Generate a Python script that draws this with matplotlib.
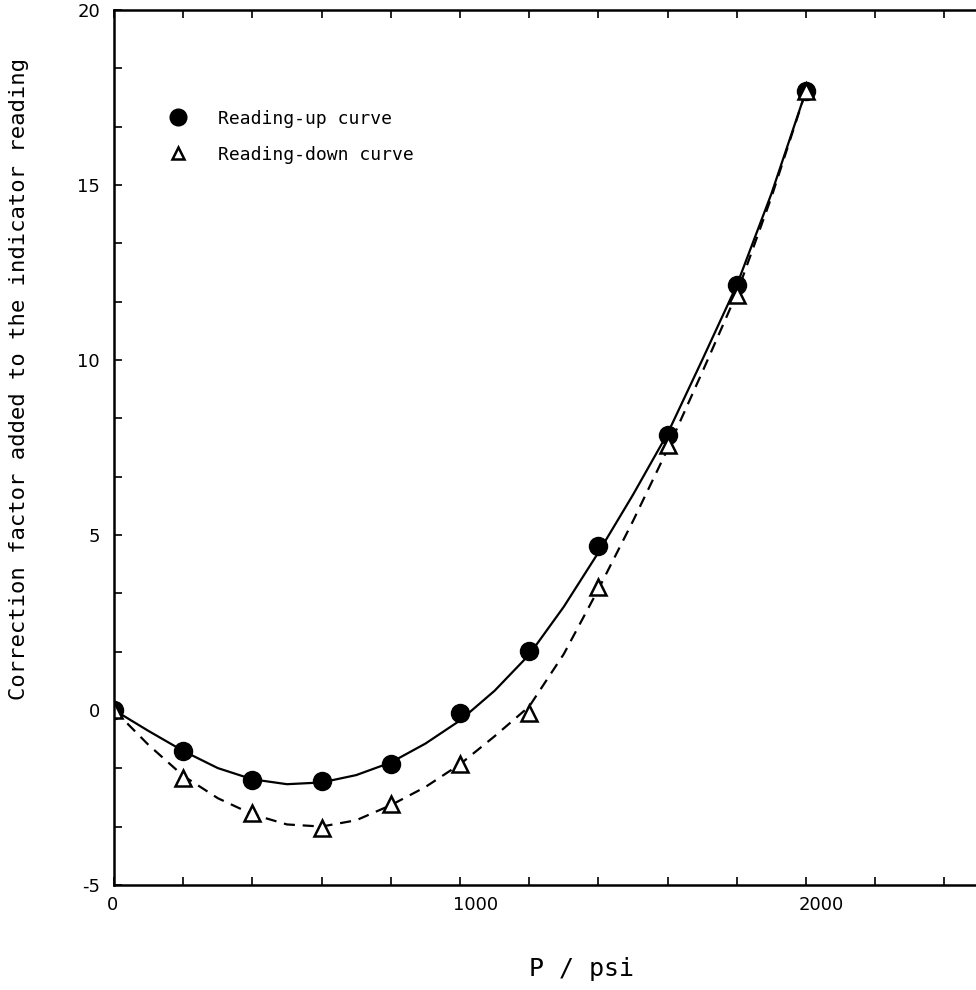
import numpy as np
import matplotlib
matplotlib.use("Agg")
import matplotlib.pyplot as plt
import matplotlib.transforms as mtrans
from matplotlib.lines import Line2D
from matplotlib.ticker import MultipleLocator

plt.rcParams["axes.unicode_minus"] = False

# measured points (P in psi, correction factor)
pressure = [0, 200, 400, 600, 800, 1000, 1200, 1400, 1600, 1800, 2000]
up_points = [0, -1.17, -2.0, -2.03, -1.54, -0.09, 1.69, 4.69, 7.86, 12.14, 17.69]
down_points = [0, -1.94, -2.94, -3.37, -2.69, -1.54, -0.09, 3.51, 7.57, 11.86, 17.69]

# smooth curves every 100 psi
curve_p = [0, 100, 200, 300, 400, 500, 600, 700, 800, 900, 1000,
           1100, 1200, 1300, 1400, 1500, 1600, 1700, 1800, 1900, 2000]
up_curve = [0, -0.6, -1.17, -1.66, -1.98, -2.12, -2.07, -1.86, -1.5, -0.96, -0.3,
            0.55, 1.58, 2.95, 4.5, 6.15, 7.9, 10.0, 12.14, 14.75, 17.69]
down_curve = [0, -1.0, -1.88, -2.52, -2.98, -3.27, -3.33, -3.15, -2.72, -2.2, -1.55,
              -0.75, 0.1, 1.6, 3.45, 5.4, 7.45, 9.65, 11.9, 14.65, 17.69]

mono = "DejaVu Sans Mono"

fig = plt.figure(figsize=(9.76, 9.9), dpi=100)
ax = fig.add_axes([114 / 976, 105 / 990, 865 / 976, 875 / 990])

ax.plot(curve_p, up_curve, "k-", lw=1.6)
ax.plot(curve_p, down_curve, "k", lw=1.6, dashes=(5, 3.5))
ax.plot(pressure, up_points, "o", color="k", ms=13, ls="none")
ax.plot(pressure, down_points, "^", mfc="white", mec="k", mew=1.8, ms=11, ls="none")

ax.set_xlim(0, 2500)
ax.set_ylim(-5, 20)
ax.set_xticks([0, 1000, 2000])
ax.xaxis.set_minor_locator(MultipleLocator(200))
ax.set_yticks([-5, 0, 5, 10, 15, 20])
ax.yaxis.set_minor_locator(MultipleLocator(5 / 3))
ax.tick_params(which="both", direction="in", length=6, width=1.2,
               top=True, right=False, labelsize=13)
ax.tick_params(axis="x", pad=8)
ax.tick_params(axis="y", pad=10)
# x tick labels start just left of their tick
shift = mtrans.ScaledTranslation(-7 / 100, 0, fig.dpi_scale_trans)
for lab in ax.get_xticklabels():
    lab.set_horizontalalignment("left")
    lab.set_transform(lab.get_transform() + shift)
for s in ["left", "bottom", "top"]:
    ax.spines[s].set_linewidth(1.8)
ax.spines["right"].set_visible(False)

ax.set_xlabel("P / psi", fontsize=18, family=mono)
ax.xaxis.set_label_coords(0.541, -0.082)
ax.set_ylabel("Correction factor added to the indicator reading", fontsize=16, family=mono)
ax.yaxis.set_label_coords(-0.0983, 0.578)

handles = [
    Line2D([], [], marker="o", color="k", ms=12, ls="none"),
    Line2D([], [], marker="^", mfc="white", mec="k", mew=1.8, ms=9, ls="none"),
]
ax.legend(handles, ["Reading-up curve", "Reading-down curve"],
          loc="upper left", bbox_to_anchor=(0.064, 0.886), frameon=False,
          prop={"family": mono, "size": 13}, handlelength=1.0,
          handletextpad=1.7, labelspacing=1.0, borderpad=0, borderaxespad=0)

plt.savefig("out.png")
plt.close()
